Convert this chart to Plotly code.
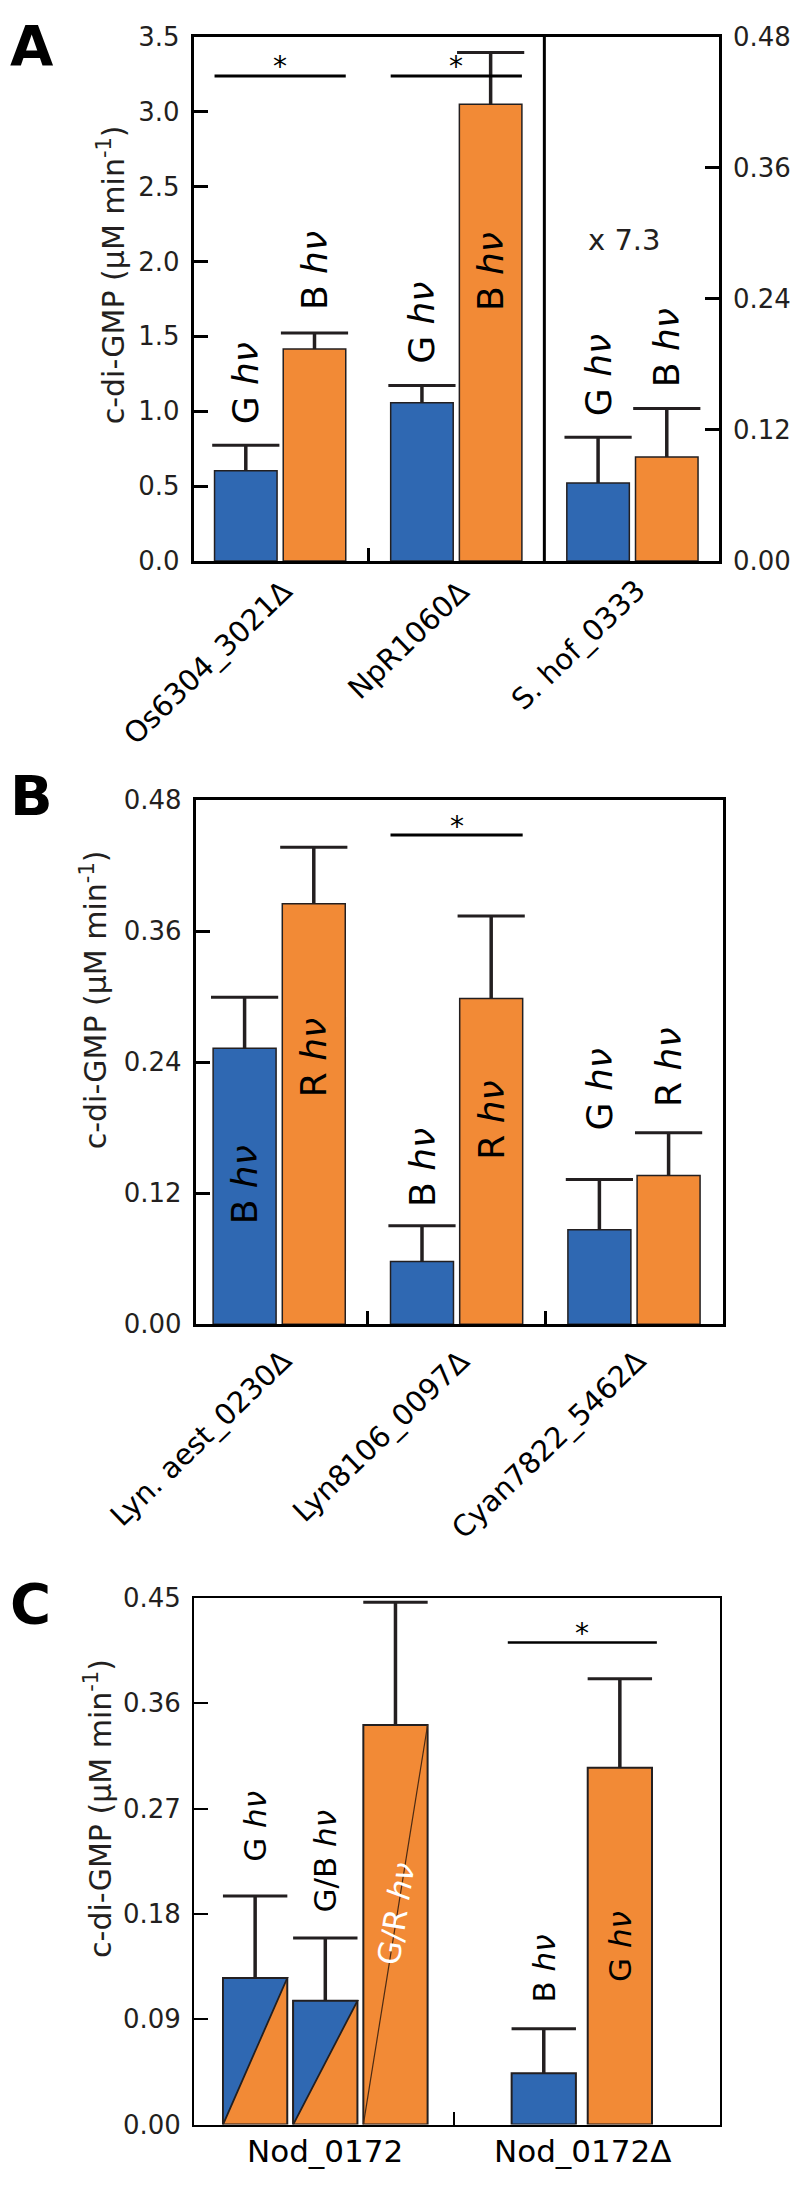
import plotly.graph_objects as go

# page is 799x2186; the browser body keeps an 8px margin, so the figure is 783x2170
PAGE_W, PAGE_H, BODY = 799, 2186, 8
W, H = PAGE_W - 2 * BODY, PAGE_H - 2 * BODY
FONT = "DejaVu Sans"
BLUE = "#2f68b2"
ORANGE = "#f28a36"
INK = "#231f20"

# ---------------- data ----------------
# Panel A  (first two categories on left axis, S. hof_0333 on right axis)
a_categories = ["Os6304_3021Δ", "NpR1060Δ", "S. hof_0333"]
a_on_right = [False, False, True]
a_blue_vals = [0.602, 1.057, 0.0713]
a_blue_errs = [0.170, 0.115, 0.0420]
a_orange_vals = [1.415, 3.049, 0.0953]
a_orange_errs = [0.107, 0.346, 0.0444]
a_blue_light = ["G", "G", "G"]
a_orange_light = ["B", "B", "B"]
a_blue_label_y = [1.185, 1.590, 0.1702]
a_orange_label_y = [1.939, 1.933, 0.1955]
a_sig_cats = [0, 1]
a_sig_y = [3.239, 3.239]
a_star_y = [3.349, 3.349]
a_left_ticks = [0.0, 0.5, 1.0, 1.5, 2.0, 2.5, 3.0, 3.5]
a_right_ticks = [0.00, 0.12, 0.24, 0.36, 0.48]
a_scale_note = "x 7.3"

# Panel B
b_categories = ["Lyn. aest_0230Δ", "Lyn8106_0097Δ", "Cyan7822_5462Δ"]
b_blue_vals = [0.2527, 0.0575, 0.0866]
b_blue_errs = [0.0468, 0.0328, 0.0460]
b_orange_vals = [0.385, 0.2984, 0.1363]
b_orange_errs = [0.0519, 0.0755, 0.0390]
b_blue_light = ["B", "B", "G"]
b_orange_light = ["R", "R", "R"]
b_blue_label_y = [0.1278, 0.144, 0.2154]
b_orange_label_y = [0.2443, 0.1865, 0.2353]
b_sig_cats = [1]
b_sig_y = [0.448]
b_star_y = [0.462]
b_ticks = [0.00, 0.12, 0.24, 0.36, 0.48]

# Panel C
c_categories = ["Nod_0172", "Nod_0172Δ"]
c_bar_cat = [0, 0, 0, 1, 1]
c_vals = [0.1252, 0.1057, 0.3414, 0.0438, 0.3048]
c_errs = [0.0700, 0.0538, 0.1048, 0.0381, 0.0762]
c_light = ["G", "G/B", "G/R", "B", "G"]
c_style = ["split", "split", "diag", "blue", "orange"]
c_label_y = [0.2545, 0.225, 0.1803, 0.1331, 0.1525]
c_sig_cats = [1]
c_sig_y = [0.412]
c_star_y = [0.426]
c_ticks = [0.00, 0.09, 0.18, 0.27, 0.36, 0.45]

# ---------------- layout geometry (page pixels -> paper) ----------------
def px(x):
    return (x - BODY) / W

def py(y):
    return 1 - (y - BODY) / H

AB_OFF = 0.195
AB_W = 0.355
C_OFF = [-0.273, 0.0, 0.273, -0.15, 0.146]
C_W = 0.25

fig = go.Figure()

def err_kw(errs, thick=3.5):
    return dict(type="data", array=errs, arrayminus=[0] * len(errs), symmetric=False,
                width=0, thickness=thick, color=INK)

def caps(xs, tops, xa, ya, size=48, lw=3):
    fig.add_trace(go.Scatter(x=xs, y=tops, xaxis=xa, yaxis=ya, mode="markers",
                             marker=dict(symbol="line-ew", size=size, color=INK,
                                         line=dict(width=lw, color=INK)),
                             hoverinfo="skip", showlegend=False))

def bar(xs, vals, errs, color, xa, ya, width, lw=1.5):
    fig.add_trace(go.Bar(x=xs, y=vals, width=[width] * len(xs), xaxis=xa, yaxis=ya,
                         marker=dict(color=color, line=dict(color=INK, width=lw)),
                         error_y=err_kw(errs), showlegend=False))
    caps(xs, [v + e for v, e in zip(vals, errs)], xa, ya)

# ---- Panel A bars ----
for side, ya in ((False, "y"), (True, "y2")):
    idx = [i for i, r in enumerate(a_on_right) if r == side]
    bar([i - AB_OFF for i in idx], [a_blue_vals[i] for i in idx], [a_blue_errs[i] for i in idx],
        BLUE, "x", ya, AB_W)
    bar([i + AB_OFF for i in idx], [a_orange_vals[i] for i in idx], [a_orange_errs[i] for i in idx],
        ORANGE, "x", ya, AB_W)

# ---- Panel B bars ----
bidx = list(range(len(b_categories)))
bar([i - AB_OFF for i in bidx], b_blue_vals, b_blue_errs, BLUE, "x2", "y3", AB_W)
bar([i + AB_OFF for i in bidx], b_orange_vals, b_orange_errs, ORANGE, "x2", "y3", AB_W)

# ---- Panel C bars ----
c_x = [c + o for c, o in zip(c_bar_cat, C_OFF)]
c_colors = [BLUE if s == "blue" else ORANGE for s in c_style]
fig.add_trace(go.Bar(x=c_x, y=c_vals, width=[C_W] * len(c_x), xaxis="x3", yaxis="y4",
                     marker=dict(color=c_colors, line=dict(color=INK, width=2)),
                     error_y=err_kw(c_errs, 3.5), showlegend=False))
caps(c_x, [v + e for v, e in zip(c_vals, c_errs)], "x3", "y4", size=46, lw=3)
for x, v, s in zip(c_x, c_vals, c_style):
    if s == "split":
        fig.add_trace(go.Scatter(x=[x - C_W / 2, x - C_W / 2, x + C_W / 2, x - C_W / 2],
                                 y=[0, v, v, 0], xaxis="x3", yaxis="y4", mode="lines",
                                 fill="toself", fillcolor=BLUE,
                                 line=dict(color=INK, width=1.8), hoverinfo="skip",
                                 showlegend=False))
    elif s == "diag":
        fig.add_trace(go.Scatter(x=[x - C_W / 2, x + C_W / 2], y=[0, v], xaxis="x3", yaxis="y4",
                                 mode="lines", line=dict(color="#4a2a14", width=1.2),
                                 hoverinfo="skip", showlegend=False))

# ---------------- axes ----------------
def xax(domain, rng, minor_vals, lw, tw):
    return dict(domain=domain, range=rng, showline=True, mirror=True, linewidth=lw,
                linecolor="black", ticks="inside", tickvals=minor_vals, ticklen=13,
                tickwidth=tw, tickcolor="black", showticklabels=False, showgrid=False,
                zeroline=False, fixedrange=True)

def yax(domain, rng, ticks, fmt, lw, tw, mirror=True, side="left"):
    return dict(domain=domain, range=rng, showline=True, mirror=mirror, linewidth=lw,
                linecolor="black", ticks="inside", tickvals=ticks,
                ticktext=[fmt.format(t) for t in ticks], ticklen=14, tickwidth=tw,
                tickcolor="black", side=side, showgrid=False, zeroline=False,
                tickfont=dict(family=FONT, size=26, color=INK), ticklabelstandoff=6,
                fixedrange=True)

A_dom_x = [px(196), px(727)]
A_dom_y = [py(553.5), py(22)]
B_dom_x = [px(198), px(731)]
B_dom_y = [py(1327.5), py(796)]
C_dom_x = [px(196), px(728)]
C_dom_y = [py(2139), py(1605)]

fig.update_layout(
    width=W, height=H, margin=dict(l=0, r=0, t=0, b=0),
    paper_bgcolor="white", plot_bgcolor="white", barmode="overlay", showlegend=False,
    font=dict(family=FONT, color=INK),
    xaxis=dict(xax(A_dom_x, [-0.49, 2.49], [0.5], 3, 3), anchor="y"),
    yaxis=dict(yax(A_dom_y, [0, 3.5], a_left_ticks, "{:.1f}", 3, 3, mirror=False), anchor="x"),
    yaxis2=dict(yax(A_dom_y, [0, 0.48], a_right_ticks, "{:.2f}", 3, 3, mirror=False, side="right"),
                anchor="x", overlaying="y"),
    xaxis2=dict(xax(B_dom_x, [-0.47, 2.5], [0.5, 1.5], 3, 3), anchor="y3"),
    yaxis3=dict(yax(B_dom_y, [0, 0.48], b_ticks, "{:.2f}", 3, 3), anchor="x2"),
    xaxis3=dict(xax(C_dom_x, [-0.5115, 1.5346], [0.5], 1.5, 2), anchor="y4"),
    yaxis4=dict(yax(C_dom_y, [0, 0.45], c_ticks, "{:.2f}", 1.5, 1.5), anchor="x3"),
)

# divider line in panel A between left-axis and right-axis groups
fig.add_shape(type="line", xref="x", yref="y domain", x0=1.5, x1=1.5, y0=0, y1=1,
              line=dict(color="black", width=3))

ann = []

def label(x, y, text, xref, yref, size=36, color="black", angle=-90):
    ann.append(dict(x=x, y=y, xref=xref, yref=yref, text=text, showarrow=False,
                    textangle=angle, font=dict(family=FONT, size=size, color=color),
                    xanchor="center", yanchor="middle"))

def hv(letter):
    return f"{letter} <i>hν</i>"

# bar labels A
for i, right in enumerate(a_on_right):
    yr = "y2" if right else "y"
    label(i - AB_OFF, a_blue_label_y[i], hv(a_blue_light[i]), "x", yr)
    label(i + AB_OFF, a_orange_label_y[i], hv(a_orange_light[i]), "x", yr)
label(1.957, 0.294, a_scale_note, "x", "y2", size=29, color=INK, angle=0)

# bar labels B
for i in bidx:
    label(i - AB_OFF, b_blue_label_y[i], hv(b_blue_light[i]), "x2", "y3")
    label(i + AB_OFF, b_orange_label_y[i], hv(b_orange_light[i]), "x2", "y3")

# bar labels C
for x, ly, t, s in zip(c_x, c_label_y, c_light, c_style):
    if s == "diag":
        label(x, ly, hv(t), "x3", "y4", size=31, color="white", angle=-81)
    else:
        label(x, ly, hv(t), "x3", "y4", size=31)

# significance bars
def sig(cats, ys, stars, xa, ya, off, w, lw):
    for c, y, sy in zip(cats, ys, stars):
        fig.add_shape(type="line", xref=xa, yref=ya, x0=c - off - w / 2, x1=c + off + w / 2,
                      y0=y, y1=y, line=dict(color="black", width=lw))
        ann.append(dict(x=c, y=sy, xref=xa, yref=ya, text="*", showarrow=False,
                        font=dict(family=FONT, size=28, color="black"),
                        xanchor="center", yanchor="middle", yshift=-7))

sig(a_sig_cats, a_sig_y, a_star_y, "x", "y", AB_OFF, AB_W, 3)
sig(b_sig_cats, b_sig_y, b_star_y, "x2", "y3", AB_OFF, AB_W, 3)
sig(c_sig_cats, c_sig_y, c_star_y, "x3", "y4", 0.15, C_W + 0.03, 2.5)

# category labels
for i, t in enumerate(a_categories):
    ann.append(dict(x=i, y=0, xref="x", yref="y", text=t, showarrow=False, textangle=-44,
                    xanchor="right", yanchor="top", xshift=22, yshift=-10,
                    font=dict(family=FONT, size=29, color="black")))
for i, t in enumerate(b_categories):
    ann.append(dict(x=i, y=0, xref="x2", yref="y3", text=t, showarrow=False, textangle=-44,
                    xanchor="right", yanchor="top", xshift=22, yshift=-16,
                    font=dict(family=FONT, size=29, color="black")))
for i, t in enumerate(c_categories):
    ann.append(dict(x=i, y=0, xref="x3", yref="y4", text=t, showarrow=False,
                    xanchor="center", yanchor="top", yshift=-6,
                    font=dict(family=FONT, size=31, color="black")))

# axis titles
ytitle = "c-di-GMP (μM min<sup>-1</sup>)"
for cx, cy in ((113, 263), (95, 999), (100, 1818)):
    ann.append(dict(x=px(cx), y=py(cy), xref="paper", yref="paper", text=ytitle,
                    showarrow=False, textangle=-90, xanchor="center", yanchor="middle",
                    font=dict(family=FONT, size=30, color=INK)))

# panel letters (glyph tops in page pixels)
for letter, top in (("A", 8), ("B", 769), ("C", 1588)):
    ann.append(dict(x=0, y=py(top), xref="paper", yref="paper", text=f"<b>{letter}</b>",
                    showarrow=False, xanchor="left", yanchor="top", yshift=12, xshift=0,
                    font=dict(family=FONT, size=56, color="black")))

fig.update_layout(annotations=ann)
fig.write_html("out.html")
